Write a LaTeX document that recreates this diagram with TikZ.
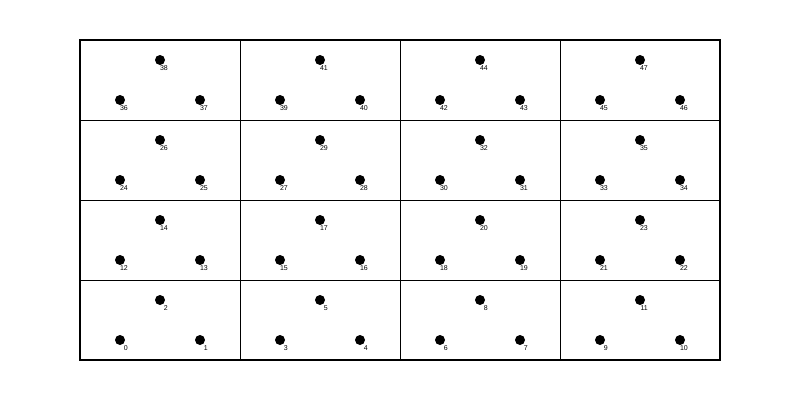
\documentclass[tikz,border=0pt]{standalone}
\usepackage{fontspec}
\setmainfont{Liberation Sans}
\begin{document}
\begin{tikzpicture}[x=1pt,y=-1pt,
  cell/.style={draw=black,line width=1pt},
  dot/.style={circle,fill=black,inner sep=0pt,minimum size=10pt},
  lbl/.style={font=\fontsize{7}{8}\selectfont,inner sep=0pt,anchor=base east}]
\useasboundingbox (0,0) rectangle (800,400);
\foreach \r in {0,...,3}{
  \foreach \c in {0,...,3}{
    \pgfmathtruncatemacro{\xa}{80+160*\c}
    \pgfmathtruncatemacro{\ya}{280-80*\r}
    \pgfmathtruncatemacro{\na}{\r*12+\c*3}
    \pgfmathtruncatemacro{\nb}{\na+1}
    \pgfmathtruncatemacro{\nc}{\na+2}
    \node[cell,minimum width=160pt,minimum height=80pt,inner sep=0pt,anchor=north west] (cell\r\c) at (\xa,\ya) {};
    \node[dot] (d\na) at (\xa+40,\ya+60) {};
    \node[dot] (d\nb) at (\xa+120,\ya+60) {};
    \node[dot] (d\nc) at (\xa+80,\ya+20) {};
    \node[lbl] (l\na) at (\xa+48,\ya+70) {\na};
    \node[lbl] (l\nb) at (\xa+128,\ya+70) {\nb};
    \node[lbl] (l\nc) at (\xa+88,\ya+30) {\nc};
  }
}
\draw[line width=1.2pt] (80,40) rectangle (720,360);
\end{tikzpicture}
\end{document}
